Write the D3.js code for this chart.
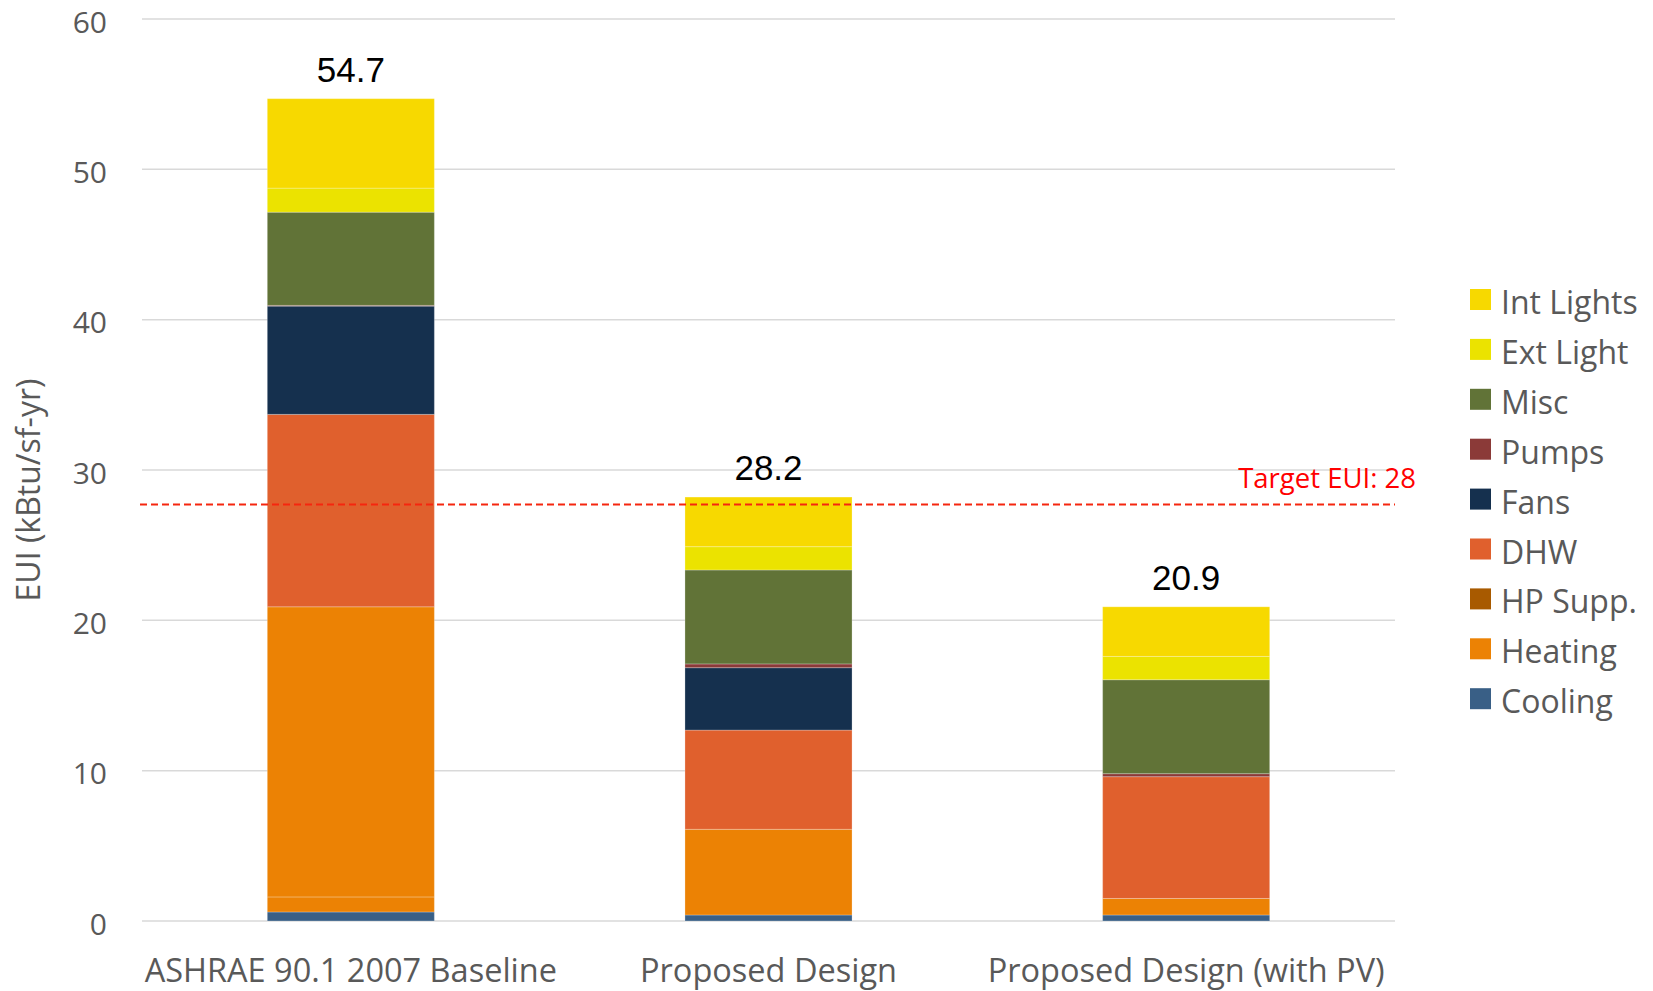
<!DOCTYPE html>
<html>
<head>
<meta charset="utf-8">
<script src="https://cdn.jsdelivr.net/npm/d3@7"></script>
<style>
  body { margin: 0; background: #fff; }
  text { font-family: "Open Sans", sans-serif; }
</style>
</head>
<body>
<div id="chart"></div>
<script>
// Categories and series values (kBtu/sf-yr)
const categories = ["ASHRAE 90.1 2007 Baseline", "Proposed Design", "Proposed Design (with PV)"];
const cooling    = [0.6, 0.4, 0.4];
const heating    = [1.0, 5.7, 1.1];
const heatingGas = [19.3, 0, 0];
const hpSupp     = [0, 0, 0];
const dhw        = [12.8, 6.6, 8.1];
const fans       = [7.2, 4.15, 0];
const pumps      = [0.05, 0.25, 0.2];
const misc       = [6.2, 6.25, 6.25];
const extLight   = [1.6, 1.55, 1.55];
const intLights  = [5.95, 3.3, 3.3];
const yTicks = [0, 10, 20, 30, 40, 50, 60];
const targetLine = 27.7;
const targetLabel = "Target EUI: 28";

// stack order bottom -> top
const series = [
  {key: "Cooling",   values: cooling,    color: "#395f86", legend: true},
  {key: "Heating",   values: heating,    color: "#ec8204", legend: true},
  {key: "HeatingGas",values: heatingGas, color: "#ec8204", legend: false},
  {key: "HP Supp.",  values: hpSupp,     color: "#a85a00", legend: true},
  {key: "DHW",       values: dhw,        color: "#e0602d", legend: true},
  {key: "Fans",      values: fans,       color: "#15304e", legend: true},
  {key: "Pumps",     values: pumps,      color: "#8b3a38", legend: true},
  {key: "Misc",      values: misc,       color: "#617337", legend: true},
  {key: "Ext Light", values: extLight,   color: "#ebe300", legend: true},
  {key: "Int Lights",values: intLights,  color: "#f7d900", legend: true}
];

const W = 1653, H = 991;
const margin = {top: 19, right: 258, bottom: 70, left: 142};
const width = W - margin.left - margin.right;
const height = H - margin.top - margin.bottom;

const svg = d3.select("#chart").append("svg")
    .attr("width", W)
    .attr("height", H);

const g = svg.append("g")
    .attr("transform", `translate(${margin.left},${margin.top})`);

// build table for d3.stack
const table = categories.map((c, i) => {
  const row = {cat: c};
  series.forEach(s => row[s.key] = s.values[i]);
  return row;
});
const stacked = d3.stack().keys(series.map(s => s.key))(table);

const x = d3.scaleBand()
    .domain(categories)
    .range([0, width])
    .paddingInner(0.6)
    .paddingOuter(0.3);

const y = d3.scaleLinear()
    .domain([0, 60])
    .range([height, 0]);

// gridlines
g.selectAll(".grid")
    .data(yTicks)
    .enter().append("line")
    .attr("class", "grid")
    .attr("x1", 0)
    .attr("x2", width)
    .attr("y1", d => y(d))
    .attr("y2", d => y(d))
    .attr("stroke", "#d9d9d9")
    .attr("stroke-width", 1.5);

// y tick labels
g.selectAll(".ytick")
    .data(yTicks)
    .enter().append("text")
    .attr("class", "ytick")
    .attr("x", -35)
    .attr("y", d => y(d))
    .attr("dy", "0.45em")
    .attr("text-anchor", "end")
    .style("font-size", "30px")
    .style("fill", "#595959")
    .text(d => d);

// y axis title
svg.append("text")
    .attr("transform", `translate(40, ${margin.top + height / 2 + 20}) rotate(-90)`)
    .attr("text-anchor", "middle")
    .style("font-size", "32px")
    .style("fill", "#595959")
    .text("EUI (kBtu/sf-yr)");

// bars
const layers = g.selectAll(".layer")
    .data(stacked)
    .enter().append("g")
    .attr("class", "layer")
    .attr("fill", (d, i) => series[i].color);

layers.selectAll("rect")
    .data(d => d)
    .enter().append("rect")
    .attr("x", d => x(d.data.cat))
    .attr("y", d => y(d[1]))
    .attr("width", x.bandwidth())
    .attr("height", d => y(d[0]) - y(d[1]))
    .attr("stroke", "rgba(255,255,255,0.25)")
    .attr("stroke-width", d => (y(d[0]) - y(d[1])) > 0 ? 1 : 0);

// total labels
g.selectAll(".total")
    .data(table)
    .enter().append("text")
    .attr("class", "total")
    .attr("x", d => x(d.cat) + x.bandwidth() / 2)
    .attr("y", d => y(d3.sum(series, s => d[s.key])) - 17)
    .attr("text-anchor", "middle")
    .style("font-family", "'Liberation Sans', Arial, sans-serif")
    .style("font-size", "35px")
    .style("fill", "#000")
    .text(d => d3.format(".1f")(d3.sum(series, s => d[s.key])));

// x labels
g.selectAll(".xlabel")
    .data(categories)
    .enter().append("text")
    .attr("class", "xlabel")
    .attr("x", d => x(d) + x.bandwidth() / 2)
    .attr("y", height + 61)
    .attr("text-anchor", "middle")
    .style("font-size", "32.5px")
    .style("fill", "#595959")
    .text(d => d);

// target line
g.append("line")
    .attr("x1", -2)
    .attr("x2", width)
    .attr("y1", y(targetLine))
    .attr("y2", y(targetLine))
    .attr("stroke", "#f5260f")
    .attr("stroke-width", 2)
    .attr("stroke-dasharray", "7,4");

g.append("text")
    .attr("x", width + 21)
    .attr("y", y(targetLine) - 17)
    .attr("text-anchor", "end")
    .style("font-size", "27.5px")
    .style("fill", "#ff0000")
    .text(targetLabel);

// legend (top -> bottom = reverse stack)
const legendItems = series.filter(s => s.legend).slice().reverse();
const legend = svg.append("g")
    .attr("transform", "translate(1470, 289)");

const item = legend.selectAll(".item")
    .data(legendItems)
    .enter().append("g")
    .attr("class", "item")
    .attr("transform", (d, i) => `translate(0, ${i * 49.9})`);

item.append("rect")
    .attr("width", 21)
    .attr("height", 21)
    .attr("fill", d => d.color);

item.append("text")
    .attr("x", 31)
    .attr("y", 25)
    .style("font-size", "32px")
    .style("fill", "#595959")
    .text(d => d.key);
</script>
</body>
</html>
